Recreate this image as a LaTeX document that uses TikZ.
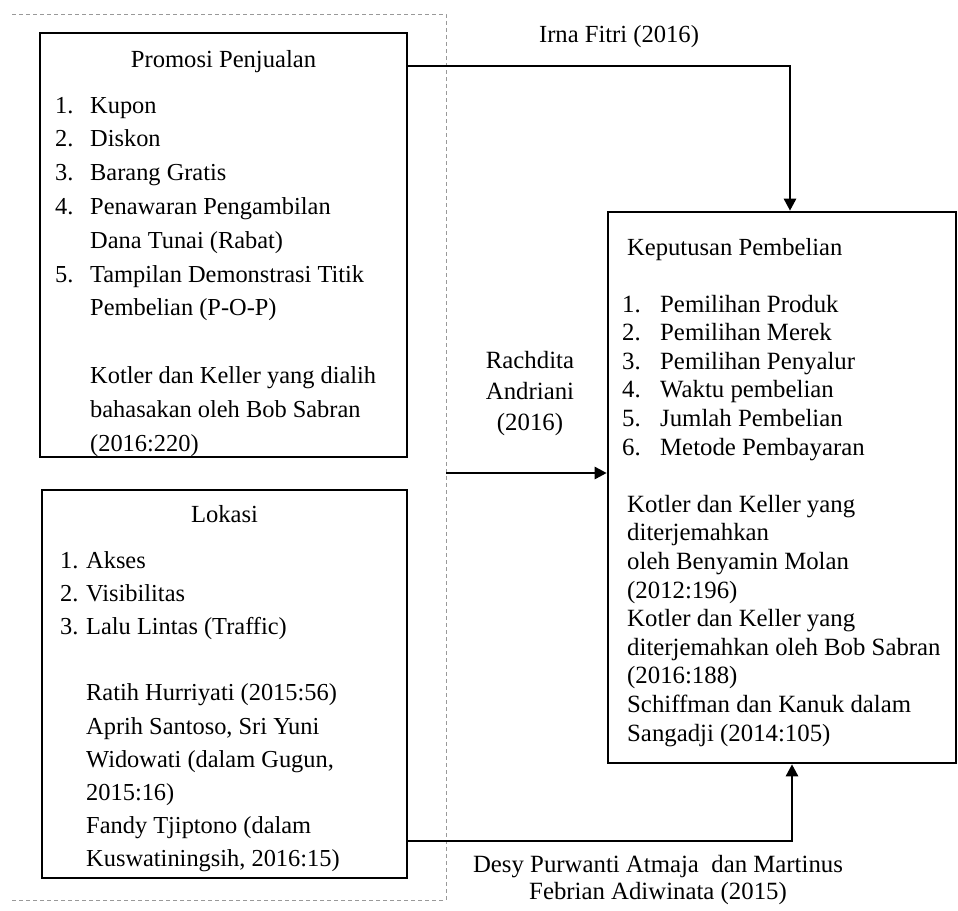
\documentclass[tikz,border=0pt]{standalone}
\usepackage{fontspec}
\setmainfont{Liberation Serif}
\usetikzlibrary{arrows.meta,positioning}

\begin{document}
\begin{tikzpicture}[
x=1pt, y=-1pt,
box/.style={rectangle, draw, line width=2.6pt, inner sep=0pt},
boxtext/.style={anchor=base west, inner sep=0pt, font=\fontsize{24.4}{33.8}\selectfont},
title/.style={anchor=base, inner sep=0pt, font=\fontsize{24.6}{30}\selectfont},
source/.style={anchor=base, inner sep=0pt},
link/.style={line width=1.2pt},
arrowline/.style={line width=2.6pt, -{Triangle[length=12pt,width=12pt]}},
frame/.style={gray!80, line width=1pt, dash pattern=on 4pt off 3pt}
]
\useasboundingbox (0,0) rectangle (958,910);

% dashed frame round the two independent variables
\draw[frame] (12,14) -- (446,14) -- (446,900) -- (12,900);

% boxes
\node (promosi) [box, minimum width=367pt, minimum height=424pt] at (223.5,245) {};
\node (lokasi) [box, minimum width=365pt, minimum height=388pt] at (224.5,684) {};
\node (keputusan) [box, minimum width=348pt, minimum height=551pt] at (782,487.5) {};

% box contents
\node (promosititle) [title] at (223.5,67) {Promosi Penjualan};
\node (promosilist) [boxtext] at (55,113) {\begin{tabular}[t]{@{}p{35pt}@{}l@{}}
1. & Kupon\\
2. & Diskon\\
3. & Barang Gratis\\
4. & Penawaran Pengambilan\\
 & Dana Tunai (Rabat)\\
5. & Tampilan Demonstrasi Titik\\
 & Pembelian (P-O-P)\\
 & \\
 & Kotler dan Keller yang dialih\\
 & bahasakan oleh Bob Sabran\\
 & (2016:220)
\end{tabular}};

\node (lokasititle) [title] at (224.5,522) {Lokasi};
\node (lokasilist) [boxtext, font=\fontsize{24.4}{33.2}\selectfont] at (60,568) {\begin{tabular}[t]{@{}p{26pt}@{}l@{}}
1. & Akses\\
2. & Visibilitas\\
3. & Lalu Lintas (Traffic)\\
 & \\
 & Ratih Hurriyati (2015:56)\\
 & Aprih Santoso, Sri Yuni\\
 & Widowati (dalam Gugun,\\
 & 2015:16)\\
 & Fandy Tjiptono (dalam\\
 & Kuswatiningsih, 2016:15)
\end{tabular}};

\node (keputusantitle) [title, anchor=base west] at (627,255) {Keputusan Pembelian};
\node (keputusanlist) [boxtext, font=\fontsize{24.8}{28.6}\selectfont] at (622,312) {\begin{tabular}[t]{@{}p{38pt}@{}l@{}}
1. & Pemilihan Produk\\
2. & Pemilihan Merek\\
3. & Pemilihan Penyalur\\
4. & Waktu pembelian\\
5. & Jumlah Pembelian\\
6. & Metode Pembayaran\\
 & \\
\multicolumn{2}{@{\hspace{5pt}}l@{}}{Kotler dan Keller yang}\\
\multicolumn{2}{@{\hspace{5pt}}l@{}}{diterjemahkan}\\
\multicolumn{2}{@{\hspace{5pt}}l@{}}{oleh Benyamin Molan}\\
\multicolumn{2}{@{\hspace{5pt}}l@{}}{(2012:196)}\\
\multicolumn{2}{@{\hspace{5pt}}l@{}}{Kotler dan Keller yang}\\
\multicolumn{2}{@{\hspace{5pt}}l@{}}{diterjemahkan oleh Bob Sabran}\\
\multicolumn{2}{@{\hspace{5pt}}l@{}}{(2016:188)}\\
\multicolumn{2}{@{\hspace{5pt}}l@{}}{Schiffman dan Kanuk dalam}\\
\multicolumn{2}{@{\hspace{5pt}}l@{}}{Sangadji (2014:105)}
\end{tabular}};

% source labels
\node (irna) [title] at (619,42) {Irna Fitri (2016)};
\node (rachdita) [source, font=\fontsize{24.8}{31}\selectfont] at (530,368) {\begin{tabular}[t]{@{}c@{}}Rachdita\\Andriani\\(2016)\end{tabular}};
\node (desy) [source, font=\fontsize{24.8}{27}\selectfont] at (658,872) {\begin{tabular}[t]{@{}c@{}}Desy Purwanti Atmaja\ \ dan Martinus\\Febrian Adiwinata (2015)\end{tabular}};

% connectors
\coordinate (irnaturn) at (790,66);
\coordinate (rachstart) at (446,473);
\coordinate (desyturn) at (792,841);

\draw[link] (promosi.east |- irnaturn) -- (irnaturn);
\draw[arrowline] ([yshift=0.6pt]irnaturn) -- (keputusan.north -| irnaturn);
\draw[arrowline] (rachstart) -- (rachstart -| keputusan.west);
\draw[link] (lokasi.east |- desyturn) -- (desyturn);
\draw[arrowline] ([yshift=-0.6pt]desyturn) -- (keputusan.south -| desyturn);
\end{tikzpicture}
\end{document}
